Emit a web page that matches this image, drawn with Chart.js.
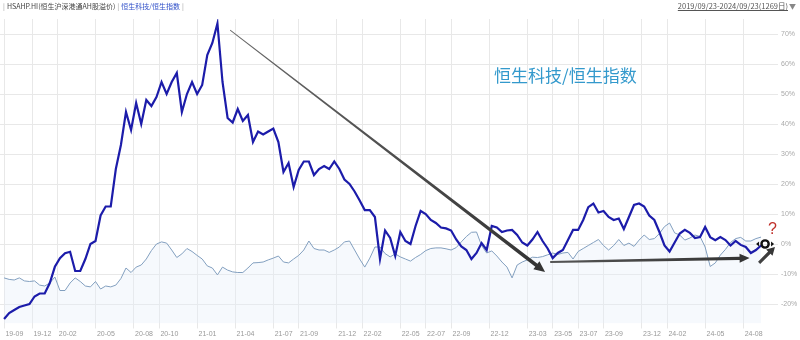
<!DOCTYPE html>
<html><head><meta charset="utf-8">
<script src="https://cdn.jsdelivr.net/npm/chart.js@4/dist/chart.umd.min.js"></script>
<style>
html,body{margin:0;padding:0;background:#fff;}
#wrap{position:relative;width:800px;height:340px;overflow:hidden;font-family:"Noto Sans CJK SC","Noto Sans",sans-serif;}
#c{position:absolute;left:0;top:0;}
.hdr{position:absolute;top:0px;left:1px;font-size:7px;line-height:12px;color:#444;white-space:nowrap;}
.hdr .sep{color:#999;margin:0 2px;}
.hdr .blue{color:#2f4fc8;}
.range{position:absolute;top:0px;right:4px;font-size:7.5px;line-height:12px;color:#555;white-space:nowrap;}
.range u{text-decoration:underline;}
.range .tri{color:#888;font-size:7px;margin-left:1px;}
.note{position:absolute;left:494px;top:64px;font-size:17px;line-height:22px;color:#3399cc;white-space:nowrap;}
.qm{position:absolute;left:768px;top:219px;font-size:16px;line-height:20px;color:#c0302a;font-family:"Liberation Sans",sans-serif;}
</style></head>
<body>
<div id="wrap">
<canvas id="c" width="800" height="340"></canvas>
<div class="hdr"><span class="sep">|</span>HSAHP.HI(恒生沪深港通AH股溢价)<span class="sep">|</span><span class="blue">恒生科技/恒生指数</span><span class="sep">|</span></div>
<div class="range"><u>2019/09/23-2024/09/23(1269日)</u><span class="tri">▼</span></div>
<div class="note">恒生科技/恒生指数</div>
<div class="qm">?</div>
</div>
<script>
// ---- data (months since 2019-09-01 on x; % change on y) ----
const tickLabels = ['19-09','19-12','20-02','20-05','20-08','20-10','21-01','21-04','21-07','21-09','21-12','22-02','22-05','22-07','22-09','22-12','23-03','23-05','23-07','23-09','23-12','24-02','24-05','24-08'];
const yTicks = [-20,-10,0,10,20,30,40,50,60,70];
const sampleStart = 0.8;   // first sample (2019-09-23)
const sampleStep = 0.4;    // months between samples

// 恒生科技/恒生指数 (dark blue)
const techRatio = [
 -25,-23,-22,-21,-20.5,-20,-17.5,-16.5,-16.5,-13,
 -7.6,-4.7,-3.1,-2.6,-9,-9,-5,0,1,9.5,
 12.5,12.5,25,33,44,38,47,40,48,46,
 49,54,50,54,57,44,50,54,50,53,
 63,67,73.5,54,42,40.5,45,41,43,34,
 37.5,36.5,37.5,38.5,34,24,27,19,24.7,27.5,
 27.5,23,25,26,25,27.5,25,21.5,20,17.5,
 14.5,11.3,11.3,9,-5,4.5,2,-4,4,1,
 0,6,11,10,8,7,5.5,5.2,4.5,1.5,
 -0.8,-2,-5,-3,0.3,-2,6,5.5,4,4.5,
 4.7,3,0.5,-0.5,1.5,4,1,-1.5,-4.7,-3,
 -2,1.3,4.7,4.7,8,12.3,13.5,10.5,11,9,
 8,8.5,5,9,13,13.5,12.5,9.5,8,4,
 -0.5,-2.5,0.5,3.5,4.7,3.7,2,2.3,5.7,2.3,
 1.3,2.3,1.3,-0.5,1,-0.3,-1,-3,-2,-0.5
];
// HSAHP.HI 恒生沪深港通AH股溢价 (light)
const ahPremium = [
 -11.3,-11.8,-12,-11.3,-12.3,-12.5,-12.3,-13.7,-14,-13,
 -11,-15.5,-15.5,-13,-11.3,-12.5,-14,-14.3,-12.5,-15,
 -14,-14.3,-13.7,-11.5,-8,-9.5,-7.7,-7,-5,-2.2,
 0,0.7,0.3,-2,-4.5,-3.3,-1.5,-2.5,-3.8,-5,
 -7.3,-8,-10.3,-7.7,-8.7,-9.3,-9.5,-9.5,-8,-6.3,
 -6.2,-6,-5.3,-4.7,-4,-6,-6.3,-5,-3.8,-2,
 1,-1.5,-2,-2,-2.8,-2,-1,0.7,1,-2,
 -5,-7.7,-4.7,-1,-1,-3.2,-4.3,-3.3,-4.3,-5,
 -5.7,-4.5,-3.5,-2.2,-1.5,-1.3,-1.3,-1.6,-2,-1.2,
 0.7,2.5,3.9,4,-0.5,-3,-2.3,-4,-6,-7.7,
 -11.3,-7,-6,-5.3,-4.4,-4.5,-4.2,-3.6,-3,-3.5,
 -3,-2.8,-5,-2.5,-1.5,-0.5,0.5,1.5,-0.5,-2,
 -0.5,1.5,-0.5,0.3,-0.8,1.3,3,1.5,1.8,3.5,
 5.8,7,3.7,3,1.3,2,3,2.5,-1,-7.5,
 -6.3,-3.7,-1.8,0.5,1.8,2.2,1,1,1.8,2.3
];

// annotation anchors in data units [month, %]
const trendArrow = {from:[18.6,71.3], to:[43.4,-9.3]};
const flatArrow  = {from:[43.8,-6.0], to:[59.5,-4.7]};
const upArrow    = {from:[60.25,-6.3], to:[61.5,-1.0]};
const lastMark   = [60.72,0];

// ---- build ----
const monthOf = l => { const [yy,mm] = l.split('-').map(Number); return (2000+yy-2019)*12 + (mm-9); };
const tickVals = tickLabels.map(l => Math.max(monthOf(l), sampleStart));
const xs = techRatio.map((_, i) => sampleStart + i*sampleStep);
const pts = arr => arr.map((v, i) => ({x: xs[i], y: v}));

function arrow(ctx, A, B, w0, w1, head, headW, c0, c1){
  const dx=B[0]-A[0], dy=B[1]-A[1], L=Math.hypot(dx,dy);
  const ux=dx/L, uy=dy/L, nx=-uy, ny=ux;
  const Bx=B[0]-ux*head, By=B[1]-uy*head;
  const g=ctx.createLinearGradient(A[0],A[1],B[0],B[1]);
  g.addColorStop(0,c0); g.addColorStop(1,c1);
  ctx.fillStyle=g;
  ctx.beginPath();
  ctx.moveTo(A[0]+nx*w0/2,A[1]+ny*w0/2);
  ctx.lineTo(Bx+nx*w1/2,By+ny*w1/2);
  ctx.lineTo(Bx+nx*headW/2,By+ny*headW/2);
  ctx.lineTo(B[0],B[1]);
  ctx.lineTo(Bx-nx*headW/2,By-ny*headW/2);
  ctx.lineTo(Bx-nx*w1/2,By-ny*w1/2);
  ctx.lineTo(A[0]-nx*w0/2,A[1]-ny*w0/2);
  ctx.closePath();
  ctx.fill();
}

const annot = {
  id:'annot',
  afterDatasetsDraw(chart){
    const {ctx, scales:{x,y}} = chart;
    const P = p => [x.getPixelForValue(p[0]), y.getPixelForValue(p[1])];
    ctx.save();
    arrow(ctx, P(trendArrow.from), P(trendArrow.to), 0.8, 3.6, 11, 10, '#6a6a6a', '#333');
    arrow(ctx, P(flatArrow.from), P(flatArrow.to), 2.0, 3.2, 10, 9, '#555', '#333');
    arrow(ctx, P(upArrow.from), P(upArrow.to), 3.0, 3.4, 8, 9, '#444', '#333');
    const C = P(lastMark);
    ctx.strokeStyle='#111'; ctx.lineWidth=2.4;
    ctx.beginPath(); ctx.arc(C[0],C[1],3.6,0,Math.PI*2); ctx.stroke();
    ctx.fillStyle='#111';
    ctx.beginPath(); ctx.moveTo(C[0]-9,C[1]); ctx.lineTo(C[0]-6,C[1]-2.5); ctx.lineTo(C[0]-6,C[1]+2.5); ctx.fill();
    ctx.beginPath(); ctx.moveTo(C[0]+9,C[1]); ctx.lineTo(C[0]+6,C[1]-2.5); ctx.lineTo(C[0]+6,C[1]+2.5); ctx.fill();
    ctx.restore();
  }
};

new Chart(document.getElementById('c'), {
  type:'line',
  data:{datasets:[
    {label:'恒生科技/恒生指数', data:pts(techRatio), borderColor:'#1c1caa', borderWidth:2.2, pointRadius:0, tension:0, fill:false},
    {label:'HSAHP.HI', data:pts(ahPremium), borderColor:'#829fbf', borderWidth:1, pointRadius:0, tension:0,
     fill:'start', backgroundColor:'rgba(228,239,250,0.35)'}
  ]},
  options:{
    responsive:false, animation:false, devicePixelRatio:1,
    layout:{padding:{top:19,left:0,right:0,bottom:0}},
    plugins:{legend:{display:false}, tooltip:{enabled:false}, title:{display:false}},
    scales:{
      x:{type:'linear', min:0.48, max:61.58,
        afterBuildTicks: s => { s.ticks = tickVals.map(v => ({value:v})); },
        afterFit: s => { s.height = 16.5; },
        ticks:{autoSkip:false, maxRotation:0, align:'start', padding:1,
          callback:(v,i) => '\u2009' + tickLabels[i],
          font:{size:7, family:'"Liberation Sans", sans-serif'}, color:'#999'},
        grid:{color:'#e8e8e8', lineWidth:1, drawTicks:true, tickLength:5},
        border:{display:false}},
      y:{position:'right', min:-26.5, max:75,
        afterBuildTicks: s => { s.ticks = yTicks.map(v => ({value:v})); },
        afterFit: s => { s.width = 24; },
        ticks:{padding:3, callback:v => v + '%',
          font:{size:7, family:'"Liberation Sans", sans-serif'}, color:'#aaa'},
        grid:{color:'#e8e8e8', lineWidth:1, drawTicks:true, tickLength:2},
        border:{display:false}}
    }
  },
  plugins:[annot]
});
</script>
</body></html>
